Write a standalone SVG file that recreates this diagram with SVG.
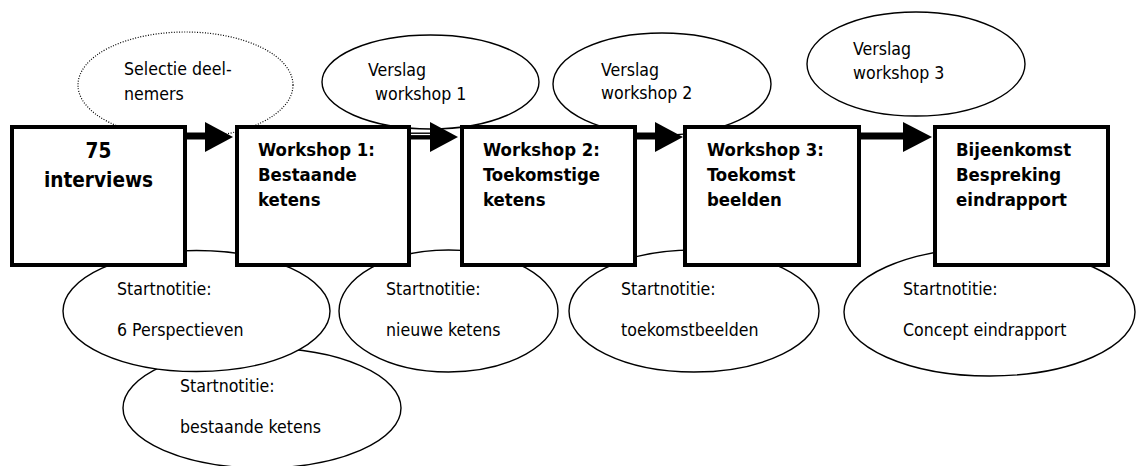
<svg xmlns="http://www.w3.org/2000/svg" width="1136" height="466" viewBox="0 0 1136 466">
<style>
.ell{fill:#fff;stroke:#000;stroke-width:1.4}
.dot{fill:#fff;stroke:#000;stroke-width:1.2;stroke-dasharray:1 1.6}
.box{fill:#fff;stroke:#000;stroke-width:4}
.t{font-family:"DejaVu Sans Condensed","DejaVu Sans",sans-serif;font-size:17.6px;fill:#000}
.b{font-family:"DejaVu Sans Condensed","DejaVu Sans",sans-serif;font-weight:bold;font-size:18.4px;fill:#000}
.bl{font-size:20.6px}
.line{stroke:#000;stroke-width:7;fill:none}
</style>
<g id="notes-bottom">
<g id="n-bestaande"><ellipse class="ell" cx="262" cy="408" rx="139" ry="60"/><text class="t" x="180" y="392">Startnotitie:</text><text class="t" x="180" y="433">bestaande ketens</text></g>
<g id="n-perspectieven"><ellipse class="ell" cx="196.5" cy="311" rx="133.5" ry="60.5"/><text class="t" x="117" y="295">Startnotitie:</text><text class="t" x="117" y="336">6 Perspectieven</text></g>
<g id="n-nieuwe"><ellipse class="ell" cx="448.5" cy="311" rx="109.5" ry="61"/><text class="t" x="386" y="295">Startnotitie:</text><text class="t" x="386" y="336">nieuwe ketens</text></g>
<g id="n-toekomst"><ellipse class="ell" cx="694" cy="311" rx="125" ry="61"/><text class="t" x="621" y="295">Startnotitie:</text><text class="t" x="621" y="336">toekomstbeelden</text></g>
<g id="n-concept"><ellipse class="ell" cx="989.5" cy="312" rx="145.5" ry="64"/><text class="t" x="903" y="295">Startnotitie:</text><text class="t" x="903" y="336">Concept eindrapport</text></g>
</g>
<g id="notes-top">
<g id="n-selectie"><ellipse class="dot" cx="185.5" cy="85" rx="107.5" ry="53"/><text class="t" x="124" y="75">Selectie deel-</text><text class="t" x="124" y="100">nemers</text></g>
<g id="n-verslag1"><ellipse class="ell" cx="430.5" cy="82" rx="108.5" ry="47"/><text class="t" x="368" y="76">Verslag</text><text class="t" x="375" y="100">workshop 1</text></g>
<g id="n-verslag2"><ellipse class="ell" cx="662" cy="84" rx="109" ry="51"/><text class="t" x="601" y="76">Verslag</text><text class="t" x="601" y="99">workshop 2</text></g>
<g id="n-verslag3"><ellipse class="ell" cx="916" cy="64" rx="109" ry="52"/><text class="t" x="853" y="55">Verslag</text><text class="t" x="853" y="79">workshop 3</text></g>
</g>
<g id="connectors">
<line class="line" x1="186" y1="136" x2="208" y2="136"/>
<polygon points="205,122 233,137 205,152"/>
<line class="line" x1="410" y1="136" x2="433" y2="136"/>
<line x1="411" y1="134.5" x2="430" y2="134.5" stroke="#fff" stroke-width="1.2"/>
<polygon points="430,122 458,137 430,152"/>
<line class="line" x1="636" y1="136" x2="658" y2="136"/>
<polygon points="655,122 683,137 655,152"/>
<line class="line" x1="860" y1="136" x2="906" y2="136"/>
<polygon points="903,122 932,137 903,152"/>
</g>
<g id="box-interviews"><rect class="box" x="12" y="127" width="173" height="138"/><text class="b bl" x="98.5" y="158" text-anchor="middle">75</text><text class="b bl" x="98.5" y="187" text-anchor="middle">interviews</text></g>
<g id="box-ws1"><rect class="box" x="237" y="127" width="172" height="138"/><text class="b" x="258" y="156">Workshop 1:</text><text class="b" x="258" y="181">Bestaande</text><text class="b" x="258" y="206">ketens</text></g>
<g id="box-ws2"><rect class="box" x="462" y="127" width="173" height="138"/><text class="b" x="483" y="156">Workshop 2:</text><text class="b" x="483" y="181">Toekomstige</text><text class="b" x="483" y="206">ketens</text></g>
<g id="box-ws3"><rect class="box" x="685" y="127" width="174" height="138"/><text class="b" x="707" y="156">Workshop 3:</text><text class="b" x="707" y="181">Toekomst</text><text class="b" x="707" y="206">beelden</text></g>
<g id="box-eind"><rect class="box" x="935" y="127" width="173" height="138"/><text class="b" x="956" y="156">Bijeenkomst</text><text class="b" x="956" y="181">Bespreking</text><text class="b" x="956" y="206">eindrapport</text></g>
</svg>
